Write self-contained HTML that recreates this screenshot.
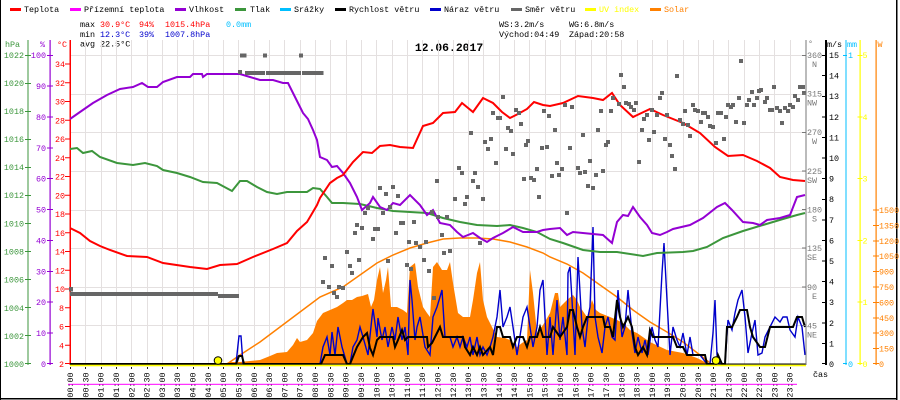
<!DOCTYPE html>
<html><head><meta charset="utf-8"><style>
body{margin:0;background:#fff}
svg{display:block}
text{font-family:"Liberation Mono","DejaVu Sans Mono",monospace;font-size:8.4px}
</style></head><body>
<svg width="900" height="400" viewBox="0 0 900 400" xmlns="http://www.w3.org/2000/svg">
<rect width="900" height="400" fill="#fff"/>
<!-- frame -->
<rect x="0" y="0" width="1" height="400" fill="#000"/>
<rect x="896" y="0" width="1.5" height="400" fill="#000"/>
<rect x="0" y="398" width="897" height="1.5" fill="#000"/>

<!-- legend -->
<g>
<rect x="10" y="8" width="11" height="3" fill="#f00"/><text x="24" y="12">Teplota</text>
<rect x="70" y="8" width="11" height="3" fill="#f0f"/><text x="84" y="12">Přízemní teplota</text>
<rect x="175" y="8" width="11" height="3" fill="#9400d3"/><text x="189" y="12">Vlhkost</text>
<rect x="235" y="8" width="11" height="3" fill="#3c963c"/><text x="250" y="12">Tlak</text>
<rect x="280" y="8" width="11" height="3" fill="#00bfff"/><text x="294" y="12">Srážky</text>
<rect x="335" y="8" width="11" height="3" fill="#000"/><text x="349" y="12">Rychlost větru</text>
<rect x="430" y="8" width="11" height="3" fill="#0000cc"/><text x="444" y="12">Náraz větru</text>
<rect x="511" y="8" width="11" height="3" fill="#666"/><text x="525" y="12">Směr větru</text>
<rect x="585" y="8" width="11" height="3" fill="#ff0"/><text x="599" y="12" fill="#ff0">UV index</text>
<rect x="650" y="8" width="11" height="3" fill="#ff8000"/><text x="664" y="12" fill="#ff8000">Solar</text>
</g>

<!-- stats -->
<text x="80" y="27">max</text><text x="100" y="27" fill="#f00">30.9°C</text><text x="139" y="27" fill="#f00">94%</text><text x="165" y="27" fill="#f00">1015.4hPa</text><text x="226" y="27" fill="#00bfff">0.0mm</text>
<text x="80" y="37">min</text><text x="100" y="37" fill="#0000cc">12.3°C</text><text x="139" y="37" fill="#0000cc">39%</text><text x="165" y="37" fill="#0000cc">1007.8hPa</text>
<text x="80" y="46.5">avg 22.5°C</text>
<text x="499" y="27">WS:3.2m/s</text><text x="569" y="27">WG:6.8m/s</text>
<text x="499" y="37">Východ:04:49</text><text x="569" y="37">Západ:20:58</text>
<text x="449" y="51" text-anchor="middle" style="font-size:11.4px;font-weight:bold">12.06.2017</text>

<!-- grid -->
<g stroke="#e4e0e0" stroke-width="1">
<path d="M85.5 40V364M101.5 40V364M116.5 40V364M131.5 40V364M147.5 40V364M162.5 40V364M177.5 40V364M193.5 40V364M208.5 40V364M223.5 40V364M238.5 40V364M254.5 40V364M269.5 40V364M284.5 40V364M300.5 40V364M315.5 40V364M330.5 40V364M346.5 40V364M361.5 40V364M376.5 40V364M392.5 40V364M407.5 40V364M422.5 40V364M438.5 40V364M453.5 40V364M468.5 40V364M483.5 40V364M499.5 40V364M514.5 40V364M529.5 40V364M545.5 40V364M560.5 40V364M575.5 40V364M591.5 40V364M606.5 40V364M621.5 40V364M637.5 40V364M652.5 40V364M667.5 40V364M683.5 40V364M698.5 40V364M713.5 40V364M728.5 40V364M744.5 40V364M759.5 40V364M774.5 40V364M790.5 40V364"/>
<path d="M70 55.5H806M70 94.5H806M70 132.5H806M70 171.5H806M70 210.5H806M70 248.5H806M70 287.5H806M70 325.5H806"/>
</g>

<!-- left axes -->
<rect x="27.5" y="40" width="1" height="325" fill="#3c963c"/>
<rect x="49.5" y="40" width="1.2" height="325" fill="#9400d3"/>
<rect x="69.5" y="40" width="1.5" height="325" fill="#f00"/>
<text x="5" y="47" fill="#3c963c">hPa</text>
<text x="40" y="47" fill="#9400d3">%</text>
<text x="57" y="47" fill="#f00">°C</text>
<path stroke="#3c963c" stroke-width="1" d="M25 55.5h6M25 83.5h6M25 111.5h6M25 139.5h6M25 167.5h6M25 195.5h6M25 223.5h6M25 251.5h6M25 279.5h6M25 307.5h6M25 335.5h6M25 363.5h6"/>
<g fill="#3c963c" text-anchor="end">
<text x="24" y="58">1022</text><text x="24" y="86">1020</text><text x="24" y="114">1018</text><text x="24" y="142">1016</text><text x="24" y="170">1014</text><text x="24" y="198">1012</text><text x="24" y="226.5">1010</text><text x="24" y="254.5">1008</text><text x="24" y="282.5">1006</text><text x="24" y="311">1004</text><text x="24" y="339">1002</text><text x="24" y="367">1000</text>
</g>
<path stroke="#9400d3" stroke-width="1" d="M47 55.5h6M47 86h6M47 117h6M47 148h6M47 178.5h6M47 209.5h6M47 240.5h6M47 271.5h6M47 302h6M47 333h6M47 363.5h6"/>
<g fill="#9400d3" text-anchor="end">
<text x="46" y="58">100</text><text x="46" y="89">90</text><text x="46" y="120">80</text><text x="46" y="151">70</text><text x="46" y="181.5">60</text><text x="46" y="212.5">50</text><text x="46" y="243.5">40</text><text x="46" y="274.5">30</text><text x="46" y="305">20</text><text x="46" y="336">10</text><text x="46" y="367">0</text>
</g>
<path stroke="#f00" stroke-width="1" d="M65 64h5M65 82.75h5M65 101.5h5M65 120.25h5M65 139h5M65 157.75h5M65 176.5h5M65 195.25h5M65 214h5M65 232.75h5M65 251.5h5M65 270.25h5M65 289h5M65 307.75h5M65 326.5h5M65 345.25h5M65 363.5h5"/>
<g fill="#f00" text-anchor="end">
<text x="65" y="67">34</text><text x="65" y="85.75">32</text><text x="65" y="104.5">30</text><text x="65" y="123.25">28</text><text x="65" y="142">26</text><text x="65" y="160.75">24</text><text x="65" y="179.5">22</text><text x="65" y="198.25">20</text><text x="65" y="217">18</text><text x="65" y="235.75">16</text><text x="65" y="254.5">14</text><text x="65" y="273.25">12</text><text x="65" y="292">10</text><text x="64" y="310.75">8</text><text x="64" y="329.5">6</text><text x="64" y="348.25">4</text><text x="64" y="367">2</text>
</g>

<!-- solar measured fill -->
<path fill="#ff8000" d="M223,364 L230,362 240,362 250,361 260,360 270,356 277,353 287,352 293,345 297,338 300,342 307,340 313,333 317,321 323,313 330,310 337,307 343,303 347,300 352,300 357,297 362,296 368,294 371,307 374,300 377,280 380,267 383,293 386,280 388,267 391,307 397,307 403,310 407,313 410,267 415,263 418,287 423,307 427,313 430,317 433,267 437,262 442,270 447,270 450,262 453,283 458,313 463,317 470,317 473,300 477,273 480,262 483,300 487,317 492,327 497,337 505,338 510,340 517,347 522,343 527,340 530,270 533,293 537,333 543,325 550,313 555,293 558,293 560,307 567,300 573,295 577,300 580,307 587,317 592,300 596,310 600,313 610,317 617,320 623,323 630,330 637,333 650,342 667,350 683,353 697,358 707,363 712,364 Z"/>
<!-- solar theoretical -->
<polyline fill="none" stroke="#ff8000" stroke-width="1.5" points="227,364 240,355 260,342 280,327 300,312 320,297 343,287 360,275 377,263 393,255 410,248 427,243 443,239 460,238 477,238 493,239 510,242 527,247 543,253 550,257 567,264 583,273 600,285 617,297 633,310 650,322 667,332 683,342 700,355 710,363 712,364"/>

<!-- gust -->
<polyline fill="none" stroke="#0000cc" stroke-width="1.4" stroke-linejoin="miter" points="70,364 236,364 238,345 239,336 241,336 242,350 243,364 320,364 323,347 327,337 330,355 332,332 335,355 338,327 342,347 347,364 350,364 353,347 357,340 360,327 363,337 368,355 372,317 373,309 377,337 378,318 382,340 385,327 388,347 392,327 395,340 398,317 402,340 405,327 408,355 410,280 412,300 415,340 417,327 420,317 425,347 430,355 433,317 437,307 440,297 442,290 445,337 450,337 453,347 457,337 460,347 463,337 467,347 470,337 473,355 477,337 480,355 483,347 487,355 490,347 493,337 497,317 500,290 503,327 507,317 510,307 513,327 517,355 523,317 527,307 530,327 533,347 537,327 540,290 543,280 547,355 550,317 553,355 557,300 560,340 563,317 567,355 568,273 570,267 572,300 575,355 578,257 582,327 585,347 588,317 590,307 593,227 595,317 598,337 602,353 605,327 608,317 612,337 615,340 618,290 622,337 625,327 628,290 632,333 635,353 638,337 642,353 645,340 648,355 652,327 655,340 658,347 662,273 664,243 667,300 670,355 673,327 677,340 680,347 683,333 687,355 690,337 693,355 700,355 707,364 710,364 713,333 715,300 717,355 720,364 725,364 728,320 732,330 735,313 738,300 742,290 745,317 748,353 752,333 755,320 758,355 762,353 765,337 770,327 775,317 780,322 783,317 787,317 790,330 795,337 798,317 802,327 805,355"/>
<!-- wind speed -->
<polyline fill="none" stroke="#000" stroke-width="2" points="70,364 236,364 239,356 242,356 244,364 321,364 325,355 343,355 347,364 350,364 357,347 363,337 367,333 370,348 373,355 377,340 380,337 393,337 395,347 398,340 402,330 405,340 408,337 427,337 428,347 432,343 437,333 440,327 443,337 463,337 465,347 470,355 473,347 477,355 480,347 483,355 490,347 493,355 497,327 500,327 503,337 510,337 513,347 517,337 523,337 527,347 530,337 537,337 540,327 543,337 550,337 553,327 560,337 567,327 570,310 573,310 577,327 580,337 583,327 587,317 603,317 605,327 610,327 613,337 617,300 620,317 623,327 628,317 632,327 635,347 638,355 643,347 647,355 650,330 653,337 673,337 677,347 683,347 687,355 705,355 707,364 716,364 718,355 722,364 725,364 727,327 732,327 737,317 740,310 747,310 750,327 753,337 760,347 765,347 770,327 793,327 797,317 802,317 805,327"/>

<!-- pressure -->
<polyline fill="none" stroke="#3c963c" stroke-width="2" points="70,149 77,148 83,153 92,151 100,157 117,163 133,165 145,163 157,166 163,170 177,173 190,177 203,182 217,183 232,191 240,181 247,181 257,187 267,192 277,194 287,192 307,192 313,188 320,189 327,197 332,203 343,203 360,204 377,208 393,211 410,212 427,213 443,218 460,222 477,225 497,226 510,225 523,228 537,232 550,239 563,243 583,250 600,252 617,252 643,256 657,253 683,252 693,251 707,247 723,238 743,231 763,225 783,219 797,215 805,213"/>
<!-- humidity -->
<polyline fill="none" stroke="#9400d3" stroke-width="2" points="70,119 80,112 93,103 107,95 120,89 133,87 142,83 148,87 157,87 163,82 177,77 190,77 193,74 202,74 203,77 207,74 240,74 250,77 260,80 273,80 283,83 288,83 293,93 298,103 303,113 308,119 313,130 317,140 320,157 327,160 332,167 337,166 343,173 350,183 357,197 362,210 370,203 373,197 380,207 387,210 393,203 400,205 410,195 420,205 427,215 433,210 440,223 450,225 457,232 463,237 473,233 480,238 487,242 493,238 503,233 513,227 523,232 537,232 543,230 550,229 560,228 567,235 573,232 593,234 603,235 612,243 617,222 623,215 628,216 633,207 640,217 647,225 652,233 660,235 667,232 673,229 690,225 703,218 717,207 725,203 732,210 743,222 753,223 760,225 767,220 780,218 790,215 797,197 805,195"/>
<!-- temperature -->
<polyline fill="none" stroke="#f00" stroke-width="2" points="70,228 80,233 90,241 100,246 110,250 127,256 147,257 163,263 190,267 207,269 220,265 237,264 253,257 273,249 287,243 297,231 307,222 310,217 317,205 320,198 330,183 337,178 343,175 353,162 363,152 372,153 380,146 390,145 400,147 413,148 423,126 433,123 443,113 455,112 462,103 473,112 483,98 493,103 502,112 510,118 518,114 527,109 534,102 543,105 550,106 563,103 578,96 593,98 603,100 612,93 620,105 633,117 650,109 663,115 683,123 700,133 715,147 728,156 743,155 757,161 770,168 780,177 793,180 805,181"/>

<!-- wind direction -->
<g fill="#666">
<rect x="240" y="53.5" width="6.5" height="4"/><rect x="263" y="53.5" width="4" height="4"/><rect x="299" y="53.5" width="4" height="4"/>
<rect x="238" y="70" width="4" height="4"/><rect x="245" y="71" width="20" height="4"/><rect x="266" y="71" width="35" height="4"/><rect x="302" y="71" width="21.5" height="4"/>
<rect x="69" y="287" width="4" height="4.5"/><rect x="70" y="292" width="148" height="4"/><rect x="218" y="294" width="21" height="4"/>
<path d="M323 256h4v4h-4zM330 264h4v4h-4zM321 280h4v4h-4zM327 285h4v4h-4zM332 291h4v4h-4zM335 295h4v4h-4zM337 285h4v4h-4zM341 286h4v4h-4zM345 250h4v4h-4zM348 264h4v4h-4zM350 271h4v4h-4zM353 231h4v4h-4zM355 223h4v4h-4zM357 258h4v4h-4zM360 226h4v4h-4zM363 211h4v4h-4zM366 206h4v4h-4zM371 237h4v4h-4zM373 227h4v4h-4zM376 227h4v4h-4zM378 186h4v4h-4zM381 211h4v4h-4zM384 192h4v4h-4zM386 259h4v4h-4zM388 205h4v4h-4zM391 185h4v4h-4zM394 231h4v4h-4zM396 194h4v4h-4zM399 221h4v4h-4zM401 221h4v4h-4zM405 263h4v4h-4zM407 240h4v4h-4zM409 267h4v4h-4zM412 220h4v4h-4zM414 241h4v4h-4zM418 245h4v4h-4zM422 258h4v4h-4zM424 240h4v4h-4zM427 269h4v4h-4zM430 210h4v4h-4zM432 296h4v4h-4zM435 179h4v4h-4zM436 215h4v4h-4zM440 233h4v4h-4zM442 251h4v4h-4zM445 215h4v4h-4zM448 249h4v4h-4zM453 197h4v4h-4zM457 166h4v4h-4zM460 171h4v4h-4zM463 202h4v4h-4zM465 195h4v4h-4zM469 131h4v4h-4zM471 179h4v4h-4zM473 171h4v4h-4zM476 185h4v4h-4zM478 241h4v4h-4zM481 197h4v4h-4zM483 140h4v4h-4zM486 147h4v4h-4zM489 137h4v4h-4zM491 111h4v4h-4zM494 161h4v4h-4zM496 116h4v4h-4zM498 116h4v4h-4zM501 95h4v4h-4zM504 147h4v4h-4zM506 126h4v4h-4zM509 129h4v4h-4zM511 152h4v4h-4zM514 108h4v4h-4zM517 111h4v4h-4zM519 122h4v4h-4zM522 177h4v4h-4zM524 143h4v4h-4zM526 139h4v4h-4zM529 176h4v4h-4zM532 178h4v4h-4zM535 167h4v4h-4zM537 195h4v4h-4zM540 146h4v4h-4zM542 109h4v4h-4zM545 145h4v4h-4zM547 114h4v4h-4zM550 174h4v4h-4zM553 128h4v4h-4zM555 161h4v4h-4zM557 173h4v4h-4zM560 167h4v4h-4zM563 103h4v4h-4zM565 211h4v4h-4zM568 146h4v4h-4zM570 105h4v4h-4zM576 166h4v4h-4zM578 171h4v4h-4zM581 133h4v4h-4zM583 170h4v4h-4zM586 184h4v4h-4zM588 159h4v4h-4zM591 186h4v4h-4zM594 173h4v4h-4zM596 128h4v4h-4zM599 109h4v4h-4zM601 169h4v4h-4zM604 143h4v4h-4zM606 140h4v4h-4zM609 109h4v4h-4zM611 96h4v4h-4zM617 102h4v4h-4zM619 73h4v4h-4zM622 85h4v4h-4zM624 101h4v4h-4zM627 102h4v4h-4zM629 105h4v4h-4zM632 108h4v4h-4zM634 101h4v4h-4zM637 160h4v4h-4zM640 128h4v4h-4zM642 117h4v4h-4zM645 113h4v4h-4zM647 138h4v4h-4zM650 108h4v4h-4zM652 130h4v4h-4zM655 113h4v4h-4zM658 96h4v4h-4zM660 91h4v4h-4zM663 137h4v4h-4zM665 113h4v4h-4zM668 143h4v4h-4zM670 154h4v4h-4zM673 167h4v4h-4zM675 74h4v4h-4zM678 118h4v4h-4zM681 122h4v4h-4zM683 109h4v4h-4zM686 123h4v4h-4zM688 134h4v4h-4zM691 103h4v4h-4zM693 108h4v4h-4zM696 109h4v4h-4zM699 120h4v4h-4zM701 111h4v4h-4zM703 111h4v4h-4zM706 115h4v4h-4zM708 124h4v4h-4zM711 125h4v4h-4zM714 141h4v4h-4zM716 111h4v4h-4zM719 111h4v4h-4zM722 137h4v4h-4zM724 115h4v4h-4zM726 103h4v4h-4zM729 105h4v4h-4zM731 103h4v4h-4zM734 120h4v4h-4zM737 96h4v4h-4zM739 59h4v4h-4zM742 121h4v4h-4zM745 103h4v4h-4zM747 98h4v4h-4zM750 90h4v4h-4zM752 103h4v4h-4zM755 96h4v4h-4zM757 89h4v4h-4zM759 88h4v4h-4zM763 100h4v4h-4zM765 96h4v4h-4zM768 108h4v4h-4zM770 108h4v4h-4zM772 85h4v4h-4zM775 106h4v4h-4zM778 109h4v4h-4zM780 121h4v4h-4zM783 106h4v4h-4zM786 109h4v4h-4zM788 103h4v4h-4zM791 105h4v4h-4zM793 94h4v4h-4zM796 98h4v4h-4zM798 85h4v4h-4zM801 85h4v4h-4zM802 91h4v4h-4z"/>
</g>

<!-- bottom axis -->
<rect x="70" y="363.5" width="736" height="1.2" fill="#000"/>
<rect x="70" y="364.7" width="736" height="1.6" fill="#ff0"/>
<!-- sun icons -->
<circle cx="218" cy="360.5" r="3.8" fill="#ff0" stroke="#000" stroke-width="1"/>
<circle cx="716" cy="360.5" r="3.8" fill="#ff0" stroke="#000" stroke-width="1"/>

<!-- right axes -->
<rect x="805.5" y="40" width="1" height="325" fill="#777"/>
<rect x="825" y="40" width="2" height="325" fill="#000"/>
<rect x="845.5" y="40" width="1" height="325" fill="#00bfff"/>
<rect x="859.5" y="40" width="1.2" height="325" fill="#ff0"/>
<rect x="875.5" y="40" width="1.2" height="325" fill="#ff8000"/>
<text x="808" y="46" fill="#777">°</text>
<text x="827" y="47">m/s</text>
<text x="847" y="47" fill="#00bfff">mm</text>
<text x="877.5" y="47" fill="#ff8000">W</text>
<path stroke="#777" stroke-width="1" d="M802 55.5h4M802 94h4M802 132.5h4M802 171h4M802 209.5h4M802 248h4M802 287h4M802 325.5h4"/>
<g fill="#777">
<text x="807" y="58">360</text><text x="817" y="67" text-anchor="end">N</text>
<text x="807" y="96.5">315</text><text x="817" y="105.5" text-anchor="end">NW</text>
<text x="807" y="135">270</text><text x="817" y="144" text-anchor="end">W</text>
<text x="807" y="174">225</text><text x="817" y="183" text-anchor="end">SW</text>
<text x="807" y="212.5">180</text><text x="817" y="221.5" text-anchor="end">S</text>
<text x="807" y="251">135</text><text x="817" y="260" text-anchor="end">SE</text>
<text x="807" y="290">90</text><text x="817" y="299" text-anchor="end">E</text>
<text x="807" y="328.5">45</text><text x="817" y="337.5" text-anchor="end">NE</text>
</g>
<path stroke="#000" stroke-width="1" d="M822 55.5h4M822 75.5h4M822 96.5h4M822 117h4M822 137.5h4M822 158h4M822 178.5h4M822 199.5h4M822 220h4M822 240.5h4M822 261h4M822 281.5h4M822 302.5h4M822 323h4M822 343.5h4M822 363.5h4"/>
<g>
<text x="829" y="58">15</text><text x="829" y="78.5">14</text><text x="829" y="99">13</text><text x="829" y="120">12</text><text x="829" y="140.5">11</text><text x="829" y="161">10</text><text x="829" y="181.5">9</text><text x="829" y="202">8</text><text x="829" y="223">7</text><text x="829" y="243.5">6</text><text x="829" y="264">5</text><text x="829" y="284.5">4</text><text x="829" y="305">3</text><text x="829" y="326">2</text><text x="829" y="346.5">1</text><text x="829" y="367">0</text>
</g>
<path stroke="#00bfff" stroke-width="1" d="M843 55.5h4M843 363.5h4"/>
<text x="848" y="58" fill="#00bfff">1</text><text x="848" y="367" fill="#00bfff">0</text>
<path stroke="#ff0" stroke-width="1" d="M857.5 55.5h5M857.5 117h5M857.5 178.5h5M857.5 240.5h5M857.5 302h5M857.5 363.5h5"/>
<g fill="#ff0">
<text x="862.5" y="58">5</text><text x="862.5" y="120">4</text><text x="862.5" y="181.5">3</text><text x="862.5" y="243.5">2</text><text x="862.5" y="305">1</text><text x="862.5" y="367">0</text>
</g>
<path stroke="#ff8000" stroke-width="1" d="M873 210h6M873 225.5h6M873 241h6M873 256h6M873 271.5h6M873 287h6M873 302.5h6M873 318h6M873 333h6M873 348.5h6M873 363.5h6"/>
<g fill="#ff8000">
<text x="879" y="213">1500</text><text x="879" y="228.5">1350</text><text x="879" y="244">1200</text><text x="879" y="259">1050</text><text x="879" y="274.5">900</text><text x="879" y="290">750</text><text x="879" y="305.5">600</text><text x="879" y="321">450</text><text x="879" y="336">300</text><text x="879" y="351.5">150</text><text x="879" y="367">0</text>
</g>

<!-- x ticks -->
<path stroke="#222" stroke-width="1" d="M70.5 367v2M85.5 367v2M101.5 367v2M116.5 367v2M131.5 367v2M147.5 367v2M162.5 367v2M177.5 367v2M193.5 367v2M208.5 367v2M223.5 367v2M238.5 367v2M254.5 367v2M269.5 367v2M284.5 367v2M300.5 367v2M315.5 367v2M330.5 367v2M346.5 367v2M361.5 367v2M376.5 367v2M392.5 367v2M407.5 367v2M422.5 367v2M438.5 367v2M453.5 367v2M468.5 367v2M483.5 367v2M499.5 367v2M514.5 367v2M529.5 367v2M545.5 367v2M560.5 367v2M575.5 367v2M591.5 367v2M606.5 367v2M621.5 367v2M637.5 367v2M652.5 367v2M667.5 367v2M683.5 367v2M698.5 367v2M713.5 367v2M728.5 367v2M744.5 367v2M759.5 367v2M774.5 367v2M790.5 367v2"/>
<!-- x labels -->
<g text-anchor="middle">
<text transform="translate(73,385) rotate(-90)">00:00</text>
<text transform="translate(88.3,385) rotate(-90)">00:30</text>
<text transform="translate(103.6,385) rotate(-90)">01:00</text>
<text transform="translate(118.9,385) rotate(-90)">01:30</text>
<text transform="translate(134.3,385) rotate(-90)">02:00</text>
<text transform="translate(149.6,385) rotate(-90)">02:30</text>
<text transform="translate(164.9,385) rotate(-90)">03:00</text>
<text transform="translate(180.2,385) rotate(-90)">03:30</text>
<text transform="translate(195.5,385) rotate(-90)">04:00</text>
<text transform="translate(210.8,385) rotate(-90)">04:30</text>
<text transform="translate(226.1,385) rotate(-90)">05:00</text>
<text transform="translate(241.4,385) rotate(-90)">05:30</text>
<text transform="translate(256.8,385) rotate(-90)">06:00</text>
<text transform="translate(272.1,385) rotate(-90)">06:30</text>
<text transform="translate(287.4,385) rotate(-90)">07:00</text>
<text transform="translate(302.7,385) rotate(-90)">07:30</text>
<text transform="translate(318,385) rotate(-90)">08:00</text>
<text transform="translate(333.3,385) rotate(-90)">08:30</text>
<text transform="translate(348.6,385) rotate(-90)">09:00</text>
<text transform="translate(363.9,385) rotate(-90)">09:30</text>
<text transform="translate(379.3,385) rotate(-90)">10:00</text>
<text transform="translate(394.6,385) rotate(-90)">10:30</text>
<text transform="translate(409.9,385) rotate(-90)">11:00</text>
<text transform="translate(425.2,385) rotate(-90)">11:30</text>
<text transform="translate(440.5,385) rotate(-90)">12:00</text>
<text transform="translate(455.8,385) rotate(-90)">12:30</text>
<text transform="translate(471.1,385) rotate(-90)">13:00</text>
<text transform="translate(486.4,385) rotate(-90)">13:30</text>
<text transform="translate(501.8,385) rotate(-90)">14:00</text>
<text transform="translate(517.1,385) rotate(-90)">14:30</text>
<text transform="translate(532.4,385) rotate(-90)">15:00</text>
<text transform="translate(547.7,385) rotate(-90)">15:30</text>
<text transform="translate(563,385) rotate(-90)">16:00</text>
<text transform="translate(578.3,385) rotate(-90)">16:30</text>
<text transform="translate(593.6,385) rotate(-90)">17:00</text>
<text transform="translate(608.9,385) rotate(-90)">17:30</text>
<text transform="translate(624.3,385) rotate(-90)">18:00</text>
<text transform="translate(639.6,385) rotate(-90)">18:30</text>
<text transform="translate(654.9,385) rotate(-90)">19:00</text>
<text transform="translate(670.2,385) rotate(-90)">19:30</text>
<text transform="translate(685.5,385) rotate(-90)">20:00</text>
<text transform="translate(700.8,385) rotate(-90)">20:30</text>
<text transform="translate(716.1,385) rotate(-90)">21:00</text>
<text transform="translate(731.4,385) rotate(-90)">21:30</text>
<text transform="translate(746.8,385) rotate(-90)">22:00</text>
<text transform="translate(762.1,385) rotate(-90)">22:30</text>
<text transform="translate(777.4,385) rotate(-90)">23:00</text>
<text transform="translate(792.7,385) rotate(-90)">23:30</text>
</g>
<rect x="68" y="383.8" width="729" height="1" fill="#f0f"/>
<text x="813" y="377">čas</text>
</svg>
</body></html>
